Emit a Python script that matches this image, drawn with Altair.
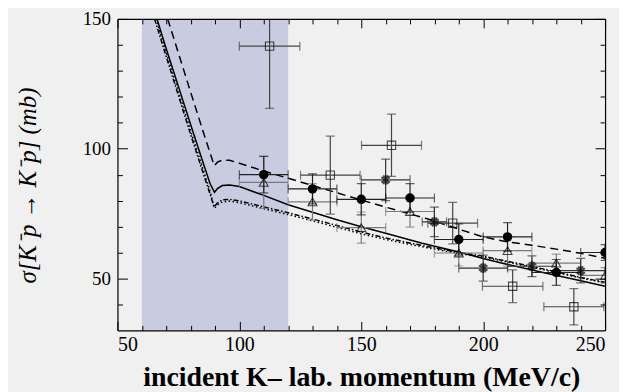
import altair as alt
import pandas as pd

# ---------------- data ----------------
x_domain = [50, 250]
y_domain = [30, 150]
band_x = [60, 120]

x_major = [50, 100, 150, 200, 250]
x_minor = [60, 70, 80, 90, 110, 120, 130, 140, 160, 170, 180, 190, 210, 220, 230, 240]
y_major = [50, 100, 150]
y_minor = [40, 60, 70, 80, 90, 110, 120, 130, 140]

solid_x = [66.2, 70, 75, 80, 85, 88, 89.8, 91, 93, 96, 100, 110, 120, 130, 140, 150, 160, 175, 190, 200, 210, 225, 240, 250]
solid_y = [150, 138.5, 124, 109.3, 95, 86.5, 83.2, 84.6, 85.8, 86, 85.4, 82.0, 78.4, 75.5, 72.6, 69.9, 67.4, 63.6, 60.2, 57.7, 55.4, 52.2, 49.1, 47]

dashed_x = [70.6, 75, 80, 85, 88, 89.7, 91, 93, 96, 100, 110, 120, 130, 140, 150, 160, 177, 190, 200, 210, 220, 230, 240, 250]
dashed_y = [150, 136.8, 121.8, 107, 98.3, 93.4, 94.8, 95.6, 95.5, 94.4, 91.4, 88.6, 85.8, 83, 80.2, 77.5, 73, 69, 66, 64.1, 62.8, 61.3, 59.7, 57.8]

dashdot_x = [65.2, 70, 75, 80, 85, 88, 89.6, 91, 93, 96, 100, 110, 120, 130, 140, 150, 160, 177, 190, 200, 210, 225, 240, 250]
dashdot_y = [150, 135.5, 120.5, 105.5, 91, 82.5, 77.6, 79, 80.3, 80.5, 79.9, 77.6, 75.3, 72.9, 70.4, 67.9, 65.6, 62.3, 60, 58.6, 56.6, 53.6, 50.4, 48.5]

dotted_x = [65.8, 70.5, 75.5, 80.5, 85.5, 88.3, 89.8, 91, 93, 96, 100, 110, 120, 130, 140, 150, 160, 177, 190, 200, 210, 225, 240, 250]
dotted_y = [150, 135.5, 120.5, 105.5, 91, 82.5, 77, 78.3, 79.5, 79.8, 79.2, 76.9, 74.6, 72.2, 69.7, 67.2, 65, 61.8, 59.6, 58.3, 56.3, 53.3, 50.2, 48.3]

# filled circles
circ_x = [110, 130, 150, 170, 190, 210, 230, 250]
circ_y = [90, 84.5, 80.5, 81, 65, 66, 52.3, 60]
circ_xerr = [10, 10, 10, 10, 10, 10, 10, 10]
circ_yerr = [7, 5.8, 6, 5.5, 6, 5.5, 5, 3]

# open triangles
tri_x = [110, 130, 150, 170, 190, 210, 230, 250]
tri_y = [87, 79.5, 69.6, 75.8, 59.8, 60.7, 55.9, 51.2]
tri_xerr = [10, 10, 10, 10, 10, 10, 10, 10]
tri_yerr = [10, 7, 6, 6, 5, 6, 3.5, 3]

# open squares
sq_x = [112.4, 137.3, 162.4, 187.5, 212.1, 237.2]
sq_y = [139.5, 89.8, 101.3, 71.3, 47, 39.1]
sq_xerr = [12.4, 12.2, 12.3, 10.2, 12.4, 12.3]
sq_yerr = [24, 15, 12, 8, 6.3, 7]

# asterisks
st_x = [160, 180, 200, 220, 240]
st_y = [88, 71.8, 54, 54.7, 53]
st_xerr = [10, 5, 10, 10, 10]
st_yerr = [8, 5.7, 5, 4, 4.7]

# ---------------- chart ----------------
X = alt.Scale(domain=x_domain, nice=False, zero=False)
Y = alt.Scale(domain=y_domain, nice=False, zero=False)
SERIF = "Liberation Serif"


def xq(f, axis=None):
    if axis is None:
        return alt.X(f, type="quantitative", scale=X, axis=None)
    return alt.X(f, type="quantitative", scale=X, axis=axis)


def yq(f, axis=None):
    if axis is None:
        return alt.Y(f, type="quantitative", scale=Y, axis=None)
    return alt.Y(f, type="quantitative", scale=Y, axis=axis)


band = pd.DataFrame({"x": [band_x[0]], "x2": [band_x[1]], "y": [y_domain[0]], "y2": [y_domain[1]]})
band_layer = alt.Chart(band).mark_rect(color="#c9cce1").encode(
    x=xq("x"), x2="x2", y=yq("y"), y2="y2")


def curve(xs, ys, dash):
    df = pd.DataFrame({"x": xs, "y": ys})
    kw = dict(color="black", strokeWidth=1.5, clip=True)
    if dash:
        kw["strokeDash"] = dash
    return alt.Chart(df).mark_line(**kw).encode(x=xq("x"), y=yq("y"))


curves = [
    curve(dotted_x, dotted_y, [1.5, 2.5]),
    curve(dashdot_x, dashdot_y, [5, 2, 1.5, 2]),
    curve(solid_x, solid_y, None),
    curve(dashed_x, dashed_y, [8, 5]),
]


def errbars(xs, ys, xe, ye, color):
    df = pd.DataFrame({"x": xs, "y": ys})
    df["xlo"] = [a - b for a, b in zip(xs, xe)]
    df["xhi"] = [a + b for a, b in zip(xs, xe)]
    df["ylo"] = [a - b for a, b in zip(ys, ye)]
    df["yhi"] = [a + b for a, b in zip(ys, ye)]
    base = alt.Chart(df)
    rk = dict(color=color, strokeWidth=1.2, clip=True)
    tk = dict(color=color, thickness=1.2, size=9, clip=True)
    return [
        base.mark_rule(**rk).encode(x=xq("xlo"), x2="xhi:Q", y=yq("y")),
        base.mark_rule(**rk).encode(x=xq("x"), y=yq("ylo"), y2="yhi:Q"),
        base.mark_tick(orient="vertical", **tk).encode(x=xq("xlo"), y=yq("y")),
        base.mark_tick(orient="vertical", **tk).encode(x=xq("xhi"), y=yq("y")),
        base.mark_tick(orient="horizontal", **tk).encode(x=xq("x"), y=yq("ylo")),
        base.mark_tick(orient="horizontal", **tk).encode(x=xq("x"), y=yq("yhi")),
    ]


bars = []
bars += errbars(tri_x, tri_y, tri_xerr, tri_yerr, "#7a7a7a")
bars += errbars(sq_x, sq_y, sq_xerr, sq_yerr, "#444444")
bars += errbars(st_x, st_y, st_xerr, st_yerr, "#333333")
bars += errbars(circ_x, circ_y, circ_xerr, circ_yerr, "#222222")

STAR = "M0,-1L0,1M-0.87,-0.5L0.87,0.5M-0.87,0.5L0.87,-0.5M-0.5,-0.87L0.5,0.87M-0.5,0.87L0.5,-0.87"


def pts(xs, ys, **mk):
    df = pd.DataFrame({"x": xs, "y": ys})
    return alt.Chart(df).mark_point(clip=True, **mk).encode(x=xq("x"), y=yq("y"))


points = [
    pts(tri_x, tri_y, shape="triangle-up", filled=False, size=80, color="black", strokeWidth=1.1),
    pts(sq_x, sq_y, shape="square", filled=False, size=70, color="black", strokeWidth=1.1),
    pts(st_x, st_y, shape=STAR, filled=False, size=100, color="black", strokeWidth=1.8),
    pts(circ_x, circ_y, shape="circle", filled=True, size=90, color="black", opacity=1),
]

dummy = pd.DataFrame({"x": [x_domain[0]], "y": [y_domain[0]]})


def axis_layer(xaxis, yaxis):
    return alt.Chart(dummy).mark_point(opacity=0).encode(x=xq("x", xaxis), y=yq("y", yaxis))


def tick_axis(orient, values, size):
    return alt.Axis(orient=orient, values=values, offset=-size, tickSize=size, labels=False,
                    domain=False, grid=False, title="", tickColor="black", tickWidth=1, zindex=2)


axes = [
    axis_layer(tick_axis("bottom", x_major, 9), tick_axis("left", y_major, 10)),
    axis_layer(tick_axis("bottom", x_minor, 5), tick_axis("left", y_minor, 5)),
    axis_layer(tick_axis("top", x_major, 9), tick_axis("right", y_major, 10)),
    axis_layer(tick_axis("top", x_minor, 5), tick_axis("right", y_minor, 5)),
    axis_layer(
        alt.Axis(orient="top", values=x_major, tickSize=0, labels=False, domain=True,
                 domainColor="black", domainWidth=1.2, grid=False, title="", zindex=2),
        alt.Axis(orient="right", values=y_major, tickSize=0, labels=False, domain=True,
                 domainColor="black", domainWidth=1.2, grid=False, title="", zindex=2),
    ),
    axis_layer(
        alt.Axis(orient="bottom", values=x_major, tickSize=0, domain=True, domainColor="black",
                 domainWidth=1.2, grid=False, labelFont=SERIF, labelFontSize=20, labelColor="black",
                 labelPadding=4, title="incident K\u2013 lab. momentum (MeV/c)", titleFont=SERIF,
                 titleFontSize=28, titleFontWeight="bold", titleColor="black", titleY=55,
                 titleBaseline="alphabetic", zindex=2),
        alt.Axis(orient="left", values=y_major, tickSize=0, domain=True, domainColor="black",
                 domainWidth=1.2, grid=False, labelFont=SERIF, labelFontSize=19, labelColor="black",
                 labelPadding=7, title="\u03c3[K\u207bp \u2192 K\u207bp] (mb)", titleFont=SERIF,
                 titleFontSize=25, titleFontWeight="normal", titleFontStyle="italic",
                 titleColor="black", titleX=-90, titleY=167, titleAngle=270, titleAlign="center",
                 titleBaseline="middle", zindex=2),
    ),
]

chart = alt.layer(band_layer, *curves, *bars, *points, *axes).resolve_axis(
    x="independent", y="independent"
).properties(
    width=490, height=313,
    autosize=alt.AutoSizeParams(type="none"),
    padding={"left": 110, "top": 10, "right": 14, "bottom": 64},
    background="#f0f0f0",
).configure_view(strokeWidth=0)

chart.save("out.html", embed_options={"renderer": "svg", "actions": False})
